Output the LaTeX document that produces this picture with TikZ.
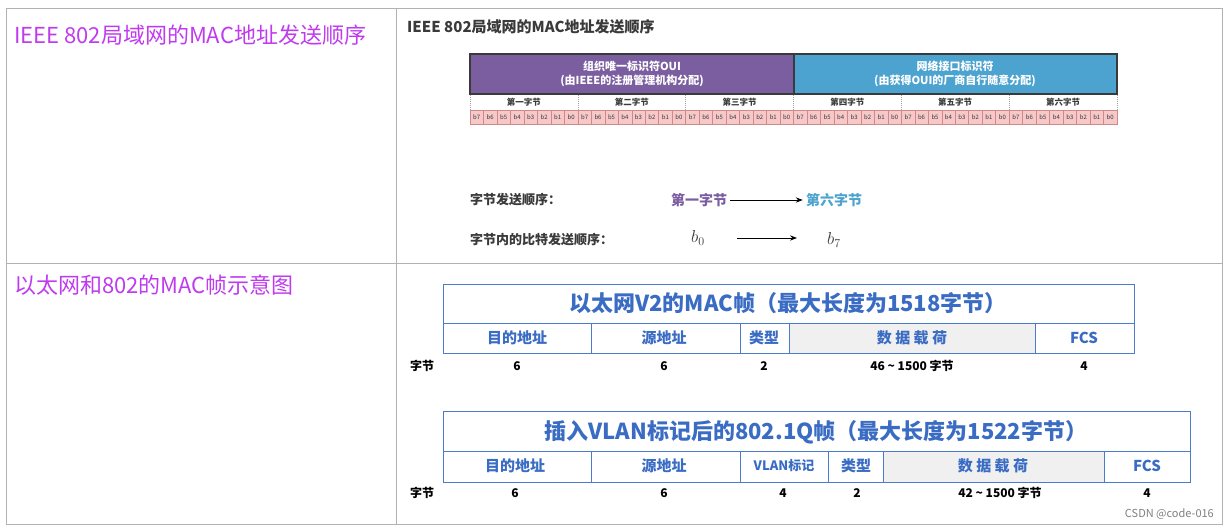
\documentclass[tikz,border=0pt]{standalone}
\usepackage{fontspec}
\setmainfont{Noto Sans CJK SC}
\newfontfamily\cjk{Noto Sans CJK SC}
\usetikzlibrary{arrows.meta}
\definecolor{mag}{HTML}{C03BF0}
\definecolor{pur}{HTML}{7B5EA0}
\definecolor{sky}{HTML}{4DA3CF}
\definecolor{fb}{HTML}{4A7CC9}
\definecolor{ft}{HTML}{3A6CC4}
\definecolor{pink}{HTML}{F6C8C8}
\definecolor{pinkd}{HTML}{D08888}
\definecolor{dk}{HTML}{3A3A3A}
\tikzset{
 lbl/.style={font=\fontsize{22}{24}\selectfont\itshape, text=mag, anchor=west, inner sep=0},
 fbox/.style={draw=fb, line width=1pt},
 ftxt/.style={text=ft, font=\bfseries\fontsize{15}{17}\selectfont, inner sep=0},
 ttl/.style={text=ft, font=\bfseries\fontsize{22}{24}\selectfont, inner sep=0},
 num/.style={text=black, font=\bfseries\fontsize{12}{14}\selectfont, inner sep=0},
 bit/.style={font=\fontsize{6}{7}\selectfont, inner sep=0, text=dk},
 small/.style={font=\bfseries\fontsize{13}{15}\selectfont, inner sep=0, text=dk, anchor=west}
}
\begin{document}
\begin{tikzpicture}[x=1pt,y=-1pt]
\path[fill=white] (0,0) rectangle (1228,530);
\useasboundingbox (0,0) rectangle (1228,530);
% outer table
\draw[gray!60, line width=0.8pt] (6,8) rectangle (1222,524);
\draw[gray!60, line width=0.8pt] (396,8) -- (396,524);
\draw[gray!60, line width=0.8pt] (6,263) -- (1222,263);
\node[lbl] (l1) at (14,35) {IEEE 802局域网的MAC地址发送顺序};
\node[lbl] (l2) at (14,285) {以太网和802的MAC帧示意图};
% top title
\node[anchor=west, inner sep=0, text=dk, font=\bfseries\fontsize{15}{17}\selectfont] (t1) at (407,27) {IEEE 802局域网的MAC地址发送顺序};
% header
\fill[pur] (470,54) rectangle (794,94);
\fill[sky] (794,54) rectangle (1117,94);
\draw[dk, line width=1.2pt] (470,54) rectangle (1117,94);
\draw[dk, line width=1.2pt] (794,54) -- (794,94);
\node[align=center, text=white, font=\bfseries\fontsize{11}{14}\selectfont] (oui) at (632,74) {组织唯一标识符OUI\\(由IEEE的注册管理机构分配)};
\node[align=center, text=white, font=\bfseries\fontsize{11}{14}\selectfont] (nic) at (955,74) {网络接口标识符\\(由获得OUI的厂商自行随意分配)};
\foreach \n [count=\i from 0] in {第一字节,第二字节,第三字节,第四字节,第五字节,第六字节}{
  \node[font=\bfseries\fontsize{8.5}{10}\selectfont, text=dk, inner sep=0] (by\i) at ({470+107.83*(\i+0.5)},102) {\n};
  \draw[gray!70, dash pattern=on 1pt off 1pt] ({470+107.83*\i},95) -- ({470+107.83*\i},110);
}
\draw[gray!70, dash pattern=on 1pt off 1pt] (1117,95) -- (1117,110);
\fill[pink] (470,110) rectangle (1117,124);
\foreach \k in {0,...,47}{
  \pgfmathtruncatemacro{\b}{7-mod(\k,8)}
  \draw[pinkd, line width=0.5pt] ({470+13.479*\k},110) rectangle ({470+13.479*(\k+1)},124);
  \node[bit] (bit\k) at ({470+13.479*(\k+0.5)},117) {b\b};
}
% sending order
\node[small] (s1) at (470,200) {字节发送顺序：};
\node[font=\bfseries\fontsize{14}{16}\selectfont, text=pur, inner sep=0] (f1) at (699,200) {第一字节};
\node[font=\bfseries\fontsize{14}{16}\selectfont, text=sky, inner sep=0] (f6) at (834,200) {第六字节};
\draw[-{Stealth[length=7pt]}, line width=1pt] (f1.east)++(3,0) -- ([xshift=-3pt]f6.west);
\node[small] (s2) at (470,240) {字节内的比特发送顺序：};
\node[inner sep=0, text=dk, font=\fontsize{17}{19}\selectfont] (b0) at (698,238) {$b_0$};
\node[inner sep=0, text=dk, font=\fontsize{17}{19}\selectfont] (b7) at (834,240) {$b_7$};
\draw[-{Stealth[length=7pt]}, line width=1pt] (737,238) -- (797,238);
% frame 1
\fill[gray!12] (789,323) rectangle (1035,353);
\draw[fbox] (443,284) rectangle (1134,353);
\draw[fbox] (443,323) -- (1134,323);
\foreach \x in {591,740,789,1035} \draw[fbox] (\x,323) -- (\x,353);
\node[ttl] (ft1) at (788,303) {以太网V2的MAC帧（最大长度为1518字节）};
\node[ftxt] (a1) at (517,338) {目的地址};
\node[ftxt] (a2) at (664,338) {源地址};
\node[ftxt] (a3) at (764,338) {类型};
\node[ftxt] (a4) at (912,338) {数\ 据\ 载\ 荷};
\node[ftxt] (a5) at (1084,338) {FCS};
\node[num] (z1) at (422,366) {字节};
\node[num] at (517,366) {6};
\node[num] at (664,366) {6};
\node[num] at (764,366) {2};
\node[num] at (912,366) {46 \textasciitilde{} 1500 字节};
\node[num] at (1084,366) {4};
% frame 2
\fill[gray!12] (883,451) rectangle (1104,482);
\draw[fbox] (443,411) rectangle (1190,482);
\draw[fbox] (443,451) -- (1190,451);
\foreach \x in {591,740,828,883,1104} \draw[fbox] (\x,451) -- (\x,482);
\node[ttl] (ft2) at (816,432) {插入VLAN标记后的802.1Q帧（最大长度为1522字节）};
\node[ftxt] (c1) at (515,466) {目的地址};
\node[ftxt] (c2) at (664,466) {源地址};
\node[ftxt, font=\bfseries\fontsize{13}{15}\selectfont] (c3) at (784,466) {VLAN标记};
\node[ftxt] (c4) at (856,466) {类型};
\node[ftxt] (c5) at (993,466) {数\ 据\ 载\ 荷};
\node[ftxt] (c6) at (1147,466) {FCS};
\node[num] (z2) at (422,493) {字节};
\node[num] at (515,493) {6};
\node[num] at (664,493) {6};
\node[num] at (783,493) {4};
\node[num] at (857,493) {2};
\node[num] at (1000,493) {42 \textasciitilde{} 1500 字节};
\node[num] at (1147,493) {4};
\node[anchor=east, inner sep=0, text=gray, font=\fontsize{11}{13}\selectfont] (wm) at (1214,514) {CSDN @code-016};
\end{tikzpicture}
\end{document}
